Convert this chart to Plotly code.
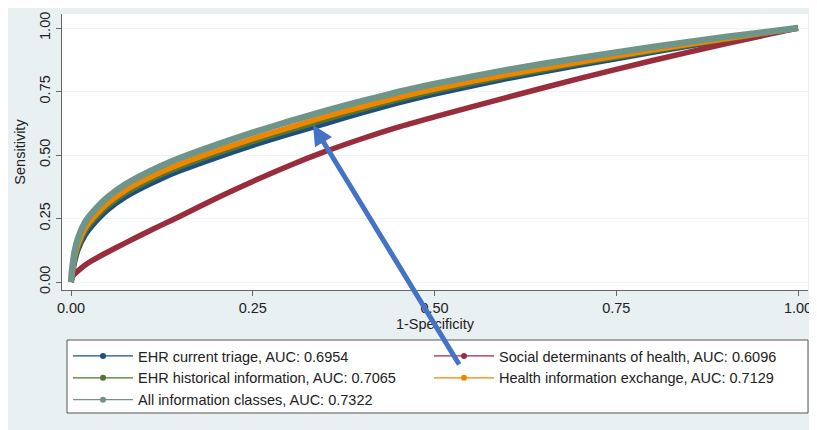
import plotly.graph_objects as go

# 1-Specificity grid
fpr = [0, 0.002, 0.005, 0.01, 0.02, 0.03, 0.05, 0.075, 0.1, 0.125, 0.15, 0.2,
       0.25, 0.3, 0.35, 0.4, 0.45, 0.5, 0.6, 0.7, 0.8, 0.9, 1.0]

# Sensitivity per model
tpr_triage = [0, 0.035, 0.08, 0.13, 0.188, 0.225, 0.283, 0.335, 0.374, 0.408, 0.438, 0.49,
              0.538, 0.582, 0.624, 0.666, 0.705, 0.74, 0.801, 0.854, 0.904, 0.953, 1.0]
tpr_sdoh = [0, 0.02, 0.032, 0.045, 0.068, 0.086, 0.117, 0.154, 0.19, 0.225, 0.259, 0.33,
            0.396, 0.458, 0.514, 0.564, 0.61, 0.65, 0.727, 0.802, 0.872, 0.938, 1.0]
tpr_hist = [0, 0.04, 0.09, 0.14, 0.203, 0.24, 0.298, 0.35, 0.389, 0.423, 0.453, 0.505,
            0.553, 0.597, 0.639, 0.68, 0.718, 0.752, 0.81, 0.861, 0.909, 0.956, 1.0]
tpr_hie = [0, 0.045, 0.10, 0.151, 0.214, 0.251, 0.309, 0.361, 0.40, 0.434, 0.464, 0.516,
           0.564, 0.608, 0.651, 0.69, 0.727, 0.76, 0.817, 0.866, 0.913, 0.958, 1.0]
tpr_all = [0, 0.06, 0.12, 0.175, 0.238, 0.275, 0.333, 0.385, 0.424, 0.458, 0.488, 0.54,
           0.588, 0.632, 0.674, 0.712, 0.748, 0.78, 0.835, 0.882, 0.925, 0.965, 1.0]

labels = [
    "EHR current triage, AUC: 0.6954",
    "Social determinants of health, AUC: 0.6096",
    "EHR historical information, AUC: 0.7065",
    "Health information exchange, AUC: 0.7129",
    "All information classes, AUC: 0.7322",
]
series = [tpr_triage, tpr_sdoh, tpr_hist, tpr_hie, tpr_all]
colors = ["#1c4f80", "#9a2d3c", "#55752f", "#ee8600", "#6f948a"]
widths = [5.5, 5.5, 5.5, 5.5, 6.5]

tick_vals = [0, 0.25, 0.5, 0.75, 1.0]
tick_text = ["0.00", "0.25", "0.50", "0.75", "1.00"]

# arrow annotation (head point in data units, tail offset in pixels)
arrow_head = (0.333, 0.618)
arrow_tail_px = (147, 241)

FONT = "Liberation Sans, Arial, sans-serif"
fig = go.Figure()

for ys, c, w in zip(series, colors, widths):
    fig.add_trace(go.Scatter(x=fpr, y=ys, mode="lines", showlegend=False,
                             line=dict(color=c, width=w, shape="spline", smoothing=0.6),
                             hoverinfo="skip"))

for lab, c in zip(labels, colors):
    fig.add_trace(go.Scatter(x=[None], y=[None], mode="lines+markers", name=lab,
                             line=dict(color=c, width=1.2),
                             marker=dict(color=c, size=6)))

# the page body has an 8px margin, so the figure is drawn 8px smaller
OFF = 8
W, H = 817 - OFF, 430 - OFF
ml, mt = 62 - OFF, 14 - OFF
plot_right, plot_bottom = 808 - OFF, 290 - OFF
mr, mb = W - plot_right, H - plot_bottom
pw, ph = W - ml - mr, H - mt - mb

def px_x(p):
    return (p - OFF - ml) / pw

def px_y(p):
    return (plot_bottom - (p - OFF)) / ph

fig.add_shape(type="rect", xref="paper", yref="paper",
              x0=px_x(67), x1=px_x(808), y0=px_y(413), y1=px_y(340),
              line=dict(color="#555555", width=1), fillcolor="white", layer="below")

fig.add_annotation(x=arrow_head[0], y=arrow_head[1], xref="x", yref="y",
                   ax=arrow_tail_px[0], ay=arrow_tail_px[1], text="",
                   showarrow=True, arrowhead=2, arrowsize=0.8, arrowwidth=5,
                   arrowcolor="#4472c4")

fig.update_layout(
    width=W, height=H,
    margin=dict(l=ml, r=mr, t=mt, b=mb, autoexpand=False),
    paper_bgcolor="#e9f0f2", plot_bgcolor="white",
    font=dict(family=FONT, size=14.5, color="#222222"),
    showlegend=True,
    legend=dict(orientation="h", x=px_x(68), y=px_y(340),
                xanchor="left", yanchor="top", bgcolor="rgba(0,0,0,0)",
                borderwidth=0, itemwidth=60, entrywidth=286, entrywidthmode="pixels",
                font=dict(family=FONT, size=14.5, color="#222222"),
                itemclick=False),
)
# x: 0 at screen px 71, 1 at 798 ; y: 0 at screen py 282, 1 at 28
fig.update_xaxes(range=[-(71 - 62) / 727, (808 - 71) / 727], tickvals=tick_vals,
                 ticktext=tick_text,
                 showline=True, linecolor="#666666", linewidth=1, mirror=False,
                 ticks="outside", ticklen=5, tickcolor="#666666", showgrid=False,
                 zeroline=False, automargin=False,
                 title=dict(text="1-Specificity", standoff=2, font=dict(size=14.5)))
fig.update_yaxes(range=[-(290 - 282) / 254, (282 - 14) / 254], tickvals=tick_vals,
                 ticktext=tick_text,
                 tickangle=-90, showline=True, linecolor="#666666", linewidth=1,
                 ticks="outside", ticklen=5, tickcolor="#666666", showgrid=True,
                 gridcolor="#eef3f5", gridwidth=1, zeroline=False, automargin=False,
                 title=dict(text="Sensitivity", standoff=8, font=dict(size=14.5)))

fig.write_html("out.html")
